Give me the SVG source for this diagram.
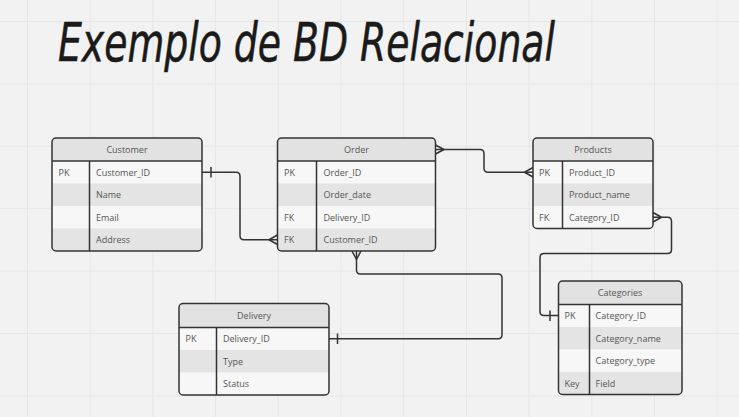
<svg xmlns="http://www.w3.org/2000/svg" width="739" height="417" viewBox="0 0 739 417">
<style>
.grid line{stroke:#e6e6e6;stroke-width:1}
.box{fill:none;stroke:#333;stroke-width:1.5}
.sep{stroke:#333;stroke-width:1.5}
.hd{fill:#e2e2e2}
.lt{fill:#f7f7f7}
.dk{fill:#e4e4e4}
.t{font-family:"Open Sans","Liberation Sans",sans-serif;font-size:9px;fill:#555}
.c{text-anchor:middle}
.conn path{fill:none;stroke:#333;stroke-width:1.5;stroke-linejoin:round}
.title{font-family:"DejaVu Sans Condensed","DejaVu Sans",sans-serif;font-style:oblique;font-size:53px;fill:#1a1a1a;stroke:#1a1a1a;stroke-width:0.5;stroke-linejoin:round}
</style>
<defs>
<clipPath id="cCu"><rect x="52" y="138" width="150" height="113" rx="4"/></clipPath>
<clipPath id="cOr"><rect x="277.5" y="138" width="158" height="113" rx="4"/></clipPath>
<clipPath id="cPr"><rect x="533" y="138" width="120" height="90.5" rx="4"/></clipPath>
<clipPath id="cDe"><rect x="179" y="303.5" width="150" height="91.5" rx="4"/></clipPath>
<clipPath id="cCa"><rect x="558.5" y="281" width="123.5" height="113.5" rx="4"/></clipPath>
</defs>
<rect width="739" height="417" fill="#f2f2f2"/>
<g class="grid">
<line x1="27.5" y1="0" x2="27.5" y2="417"/><line x1="90.2" y1="0" x2="90.2" y2="417"/><line x1="152.9" y1="0" x2="152.9" y2="417"/><line x1="215.6" y1="0" x2="215.6" y2="417"/><line x1="278.3" y1="0" x2="278.3" y2="417"/><line x1="341" y1="0" x2="341" y2="417"/><line x1="403.7" y1="0" x2="403.7" y2="417"/><line x1="466.4" y1="0" x2="466.4" y2="417"/><line x1="529.1" y1="0" x2="529.1" y2="417"/><line x1="591.8" y1="0" x2="591.8" y2="417"/><line x1="654.5" y1="0" x2="654.5" y2="417"/><line x1="717.2" y1="0" x2="717.2" y2="417"/>
<line x1="0" y1="21.5" x2="739" y2="21.5"/><line x1="0" y1="83.9" x2="739" y2="83.9"/><line x1="0" y1="146.3" x2="739" y2="146.3"/><line x1="0" y1="208.7" x2="739" y2="208.7"/><line x1="0" y1="271.1" x2="739" y2="271.1"/><line x1="0" y1="333.5" x2="739" y2="333.5"/><line x1="0" y1="395.9" x2="739" y2="395.9"/>
</g>
<text class="title" x="58" y="61" textLength="497" lengthAdjust="spacingAndGlyphs">Exemplo de BD Relacional</text>

<g class="conn">
<path d="M202,172.25 H236 Q240,172.25 240,176.25 V235.75 Q240,239.75 244,239.75 H277.5"/>
<path d="M211,167 V177.5"/>
<path d="M269,239.75 L277.5,235 M269,239.75 L277.5,244.5"/>
<path d="M435.5,149.5 H480 Q484,149.5 484,153.5 V168.25 Q484,172.25 488,172.25 H533"/>
<path d="M444,149.5 L435.5,145 M444,149.5 L435.5,154"/>
<path d="M524.5,172.25 L533,167.5 M524.5,172.25 L533,177"/>
<path d="M653,217.25 H667.5 Q671.5,217.25 671.5,221.25 V249.5 Q671.5,253.5 667.5,253.5 H544 Q540,253.5 540,257.5 V311.5 Q540,315.5 544,315.5 H558.5"/>
<path d="M661.5,217.25 L653,212.5 M661.5,217.25 L653,222"/>
<path d="M550,310.5 V321"/>
<path d="M356.5,251 V270 Q356.5,274 360.5,274 H498 Q502,274 502,278 V334.75 Q502,338.75 498,338.75 H329"/>
<path d="M356.5,259.5 L352,251 M356.5,259.5 L361,251"/>
<path d="M337.5,333.5 V344"/>
</g>

<g id="customer">
<g clip-path="url(#cCu)">
<rect class="hd" x="52" y="138" width="150" height="23"/>
<rect class="lt" x="52" y="161" width="150" height="22.5"/>
<rect class="dk" x="52" y="183.5" width="150" height="22.5"/>
<rect class="lt" x="52" y="206" width="150" height="22.5"/>
<rect class="dk" x="52" y="228.5" width="150" height="22.5"/>
</g>
<line class="sep" x1="52" y1="161" x2="202" y2="161"/>
<line class="sep" x1="89.5" y1="161" x2="89.5" y2="251"/>
<rect class="box" x="52" y="138" width="150" height="113" rx="4"/>
<text class="t c" x="127" y="152.5">Customer</text>
<text class="t" x="58.5" y="175.5">PK</text>
<text class="t" x="96" y="175.5">Customer_ID</text>
<text class="t" x="96" y="198">Name</text>
<text class="t" x="96" y="220.5">Email</text>
<text class="t" x="96" y="243">Address</text>
</g>

<g id="order">
<g clip-path="url(#cOr)">
<rect class="hd" x="277.5" y="138" width="158" height="23"/>
<rect class="lt" x="277.5" y="161" width="158" height="22.5"/>
<rect class="dk" x="277.5" y="183.5" width="158" height="22.5"/>
<rect class="lt" x="277.5" y="206" width="158" height="22.5"/>
<rect class="dk" x="277.5" y="228.5" width="158" height="22.5"/>
</g>
<line class="sep" x1="277.5" y1="161" x2="435.5" y2="161"/>
<line class="sep" x1="316.5" y1="161" x2="316.5" y2="251"/>
<rect class="box" x="277.5" y="138" width="158" height="113" rx="4"/>
<text class="t c" x="356.5" y="152.5">Order</text>
<text class="t" x="284" y="175.5">PK</text>
<text class="t" x="323.5" y="175.5">Order_ID</text>
<text class="t" x="323.5" y="198">Order_date</text>
<text class="t" x="284" y="220.5">FK</text>
<text class="t" x="323.5" y="220.5">Delivery_ID</text>
<text class="t" x="284" y="243">FK</text>
<text class="t" x="323.5" y="243">Customer_ID</text>
</g>

<g id="products">
<g clip-path="url(#cPr)">
<rect class="hd" x="533" y="138" width="120" height="23"/>
<rect class="lt" x="533" y="161" width="120" height="22.5"/>
<rect class="dk" x="533" y="183.5" width="120" height="22.5"/>
<rect class="lt" x="533" y="206" width="120" height="22.5"/>
</g>
<line class="sep" x1="533" y1="161" x2="653" y2="161"/>
<line class="sep" x1="562.5" y1="161" x2="562.5" y2="228.5"/>
<rect class="box" x="533" y="138" width="120" height="90.5" rx="4"/>
<text class="t c" x="593" y="152.5">Products</text>
<text class="t" x="539" y="175.5">PK</text>
<text class="t" x="569" y="175.5">Product_ID</text>
<text class="t" x="569" y="198">Product_name</text>
<text class="t" x="539" y="220.5">FK</text>
<text class="t" x="569" y="220.5">Category_ID</text>
</g>

<g id="delivery">
<g clip-path="url(#cDe)">
<rect class="hd" x="179" y="303.5" width="150" height="24"/>
<rect class="lt" x="179" y="327.5" width="150" height="22.5"/>
<rect class="dk" x="179" y="350" width="150" height="22.5"/>
<rect class="lt" x="179" y="372.5" width="150" height="22.5"/>
</g>
<line class="sep" x1="179" y1="327.5" x2="329" y2="327.5"/>
<line class="sep" x1="216.5" y1="327.5" x2="216.5" y2="395"/>
<rect class="box" x="179" y="303.5" width="150" height="91.5" rx="4"/>
<text class="t c" x="254" y="318.5">Delivery</text>
<text class="t" x="185.5" y="342">PK</text>
<text class="t" x="223" y="342">Delivery_ID</text>
<text class="t" x="223" y="364.5">Type</text>
<text class="t" x="223" y="387">Status</text>
</g>

<g id="categories">
<g clip-path="url(#cCa)">
<rect class="hd" x="558.5" y="281" width="123.5" height="23.5"/>
<rect class="lt" x="558.5" y="304.5" width="123.5" height="22.5"/>
<rect class="dk" x="558.5" y="327" width="123.5" height="22.5"/>
<rect class="lt" x="558.5" y="349.5" width="123.5" height="22.5"/>
<rect class="dk" x="558.5" y="372" width="123.5" height="22.5"/>
</g>
<line class="sep" x1="558.5" y1="304.5" x2="682" y2="304.5"/>
<line class="sep" x1="589.5" y1="304.5" x2="589.5" y2="394.5"/>
<rect class="box" x="558.5" y="281" width="123.5" height="113.5" rx="4"/>
<text class="t c" x="620" y="296">Categories</text>
<text class="t" x="564.5" y="319">PK</text>
<text class="t" x="595.5" y="319">Category_ID</text>
<text class="t" x="595.5" y="341.5">Category_name</text>
<text class="t" x="595.5" y="364">Category_type</text>
<text class="t" x="564.5" y="386.5">Key</text>
<text class="t" x="595.5" y="386.5">Field</text>
</g>
</svg>
